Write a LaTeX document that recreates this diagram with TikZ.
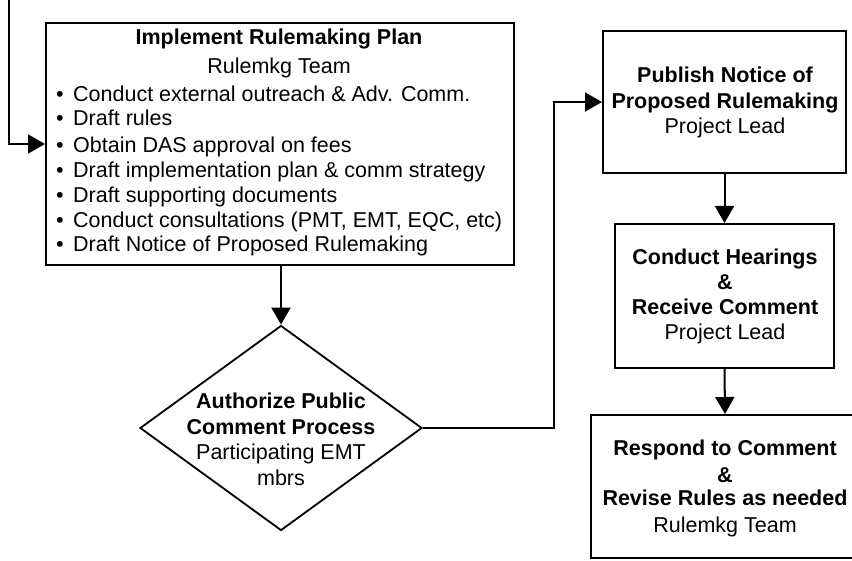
\documentclass[tikz,border=0pt]{standalone}
\usepackage{fontspec}
\setmainfont{Liberation Sans}
\usetikzlibrary{arrows.meta,shapes.geometric}
\begin{document}
\begin{tikzpicture}[x=1pt,y=-1pt,
  box/.style={draw=black,line width=2pt,inner sep=0pt},
  txt/.style={inner sep=0pt,anchor=base,font=\fontsize{21.5}{25}\selectfont},
  btxt/.style={inner sep=0pt,anchor=base,font=\fontsize{21.5}{25}\selectfont\bfseries},
  ltxt/.style={inner sep=0pt,anchor=base west,font=\fontsize{21.5}{25}\selectfont},
  conn/.style={draw=black,line width=2pt,-{Triangle[length=17pt,width=19pt]}},
]
\useasboundingbox (0,0) rectangle (852,561);
\clip (0,0) rectangle (852,561);

% boxes
\node[box,minimum width=468pt,minimum height=242pt] (plan) at (280,144) {};
\node[box,minimum width=243pt,minimum height=142pt] (pub) at (724.5,102) {};
\node[box,minimum width=219pt,minimum height=144pt] (cond) at (724.5,296) {};
\node[box,minimum width=268pt,minimum height=143pt] (resp) at (725,486.5) {};
\node[draw=black,line width=1.8pt,diamond,inner sep=0pt,minimum width=282pt,minimum height=205pt] (auth) at (281,428) {};

% plan text
\node[btxt] (p1) at (279,45) {Implement Rulemaking Plan};
\node[txt] (p2) at (279,74) {Rulemkg Team};
\node[ltxt] (b1) at (56,102) {\makebox[17pt][l]{•}Conduct external outreach \& Adv. Comm.};
\node[ltxt] (b2) at (56,126) {\makebox[17pt][l]{•}Draft rules};
\node[ltxt] (b3) at (56,153) {\makebox[17pt][l]{•}Obtain DAS approval on fees};
\node[ltxt] (b4) at (56,178) {\makebox[17pt][l]{•}Draft implementation plan \& comm strategy};
\node[ltxt] (b5) at (56,203) {\makebox[17pt][l]{•}Draft supporting documents};
\node[ltxt] (b6) at (56,228) {\makebox[17pt][l]{•}Conduct consultations (PMT, EMT, EQC, etc)};
\node[ltxt] (b7) at (56,252) {\makebox[17pt][l]{•}Draft Notice of Proposed Rulemaking};

% publish text
\node[btxt] (u1) at (725,83) {Publish Notice of};
\node[btxt] (u2) at (725,109) {Proposed Rulemaking};
\node[txt] (u3) at (725,134) {Project Lead};

% conduct text
\node[btxt] (c1) at (725,265) {Conduct Hearings};
\node[btxt] (c2) at (725,290) {\&};
\node[btxt] (c3) at (725,315) {Receive Comment};
\node[txt] (c4) at (725,340) {Project Lead};

% respond text
\node[btxt] (r1) at (725,455) {Respond to Comment};
\node[btxt] (r2) at (725,482) {\&};
\node[btxt] (r3) at (725,505) {Revise Rules as needed};
\node[txt] (r4) at (725,532) {Rulemkg Team};

% diamond text
\node[btxt] (a1) at (281,409) {Authorize Public};
\node[btxt] (a2) at (281,435) {Comment Process};
\node[txt] (a3) at (281,460) {Participating EMT};
\node[txt] (a4) at (281,485) {mbrs};

% connectors
\coordinate (start) at (9,0);
\coordinate (bend) at (554,428);
\draw[conn] (start) |- (plan.west);
\draw[conn] (auth.north |- plan.south) -- (auth.north);
\draw[conn] (auth.east) -- (bend) |- (pub.west);
\draw[conn] (pub.south) -- (cond.north);
\draw[conn] (cond.south) -- (resp.north);
\end{tikzpicture}
\end{document}
